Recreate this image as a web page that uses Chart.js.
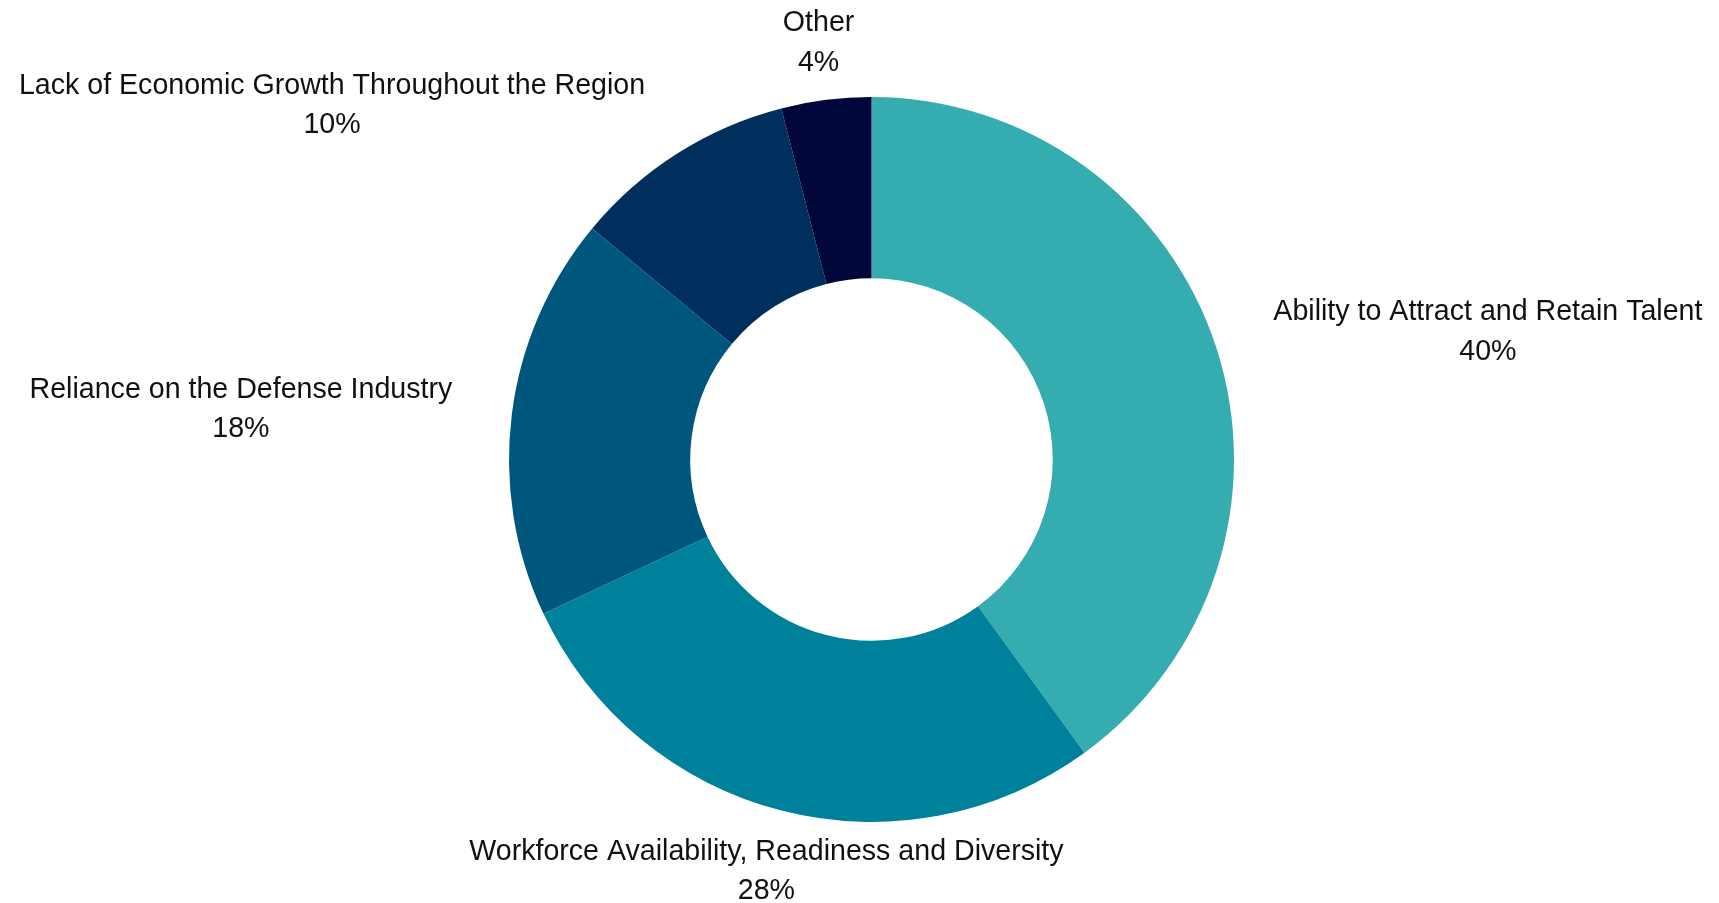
<!DOCTYPE html>
<html>
<head>
<meta charset="utf-8">
<title>Regional challenges</title>
<script src="https://cdn.jsdelivr.net/npm/chart.js@4.4.1/dist/chart.umd.min.js"></script>
<style>
  html, body { margin: 0; padding: 0; background: #ffffff; }
  #wrap { width: 1719px; height: 903px; }
</style>
</head>
<body>
<div id="wrap"><canvas id="chart-donut" width="1719" height="903"></canvas></div>
<script>
// Dados do gráfico
const categories = [
  'Ability to Attract and Retain Talent',
  'Workforce Availability, Readiness and Diversity',
  'Reliance on the Defense Industry',
  'Lack of Economic Growth Throughout the Region',
  'Other'
];
const shares = [40, 28, 18, 10, 4];
const sliceColors = ['#34acb0', '#00819b', '#00577d', '#002f5e', '#01073a'];

// Rótulos externos: nome na primeira linha, percentual na segunda
const outsideLabels = {
  id: 'outsideLabels',
  afterDatasetsDraw(chart) {
    const ctx = chart.ctx;
    const meta = chart.getDatasetMeta(0);
    const gap = 60;
    const lineGap = 39.5;

    ctx.save();
    ctx.font = '28.6px "Liberation Sans", Arial, sans-serif';
    ctx.fillStyle = '#111111';
    ctx.textAlign = 'center';
    ctx.textBaseline = 'middle';

    meta.data.forEach((arc, i) => {
      const mid = (arc.startAngle + arc.endAngle) / 2;
      const ux = Math.cos(mid);
      const uy = Math.sin(mid);
      const r = arc.outerRadius + gap;
      let px = arc.x + r * ux;
      const py = arc.y + r * uy + 3;

      const lines = [categories[i], shares[i] + '%'];
      const w = Math.max(...lines.map(t => ctx.measureText(t).width));
      // nas laterais o texto fica encostado no ponto, em cima/baixo fica centralizado
      if (Math.abs(ux) > 0.4) px += Math.sign(ux) * w / 2;

      ctx.fillText(lines[0], px, py - lineGap / 2);
      ctx.fillText(lines[1], px, py + lineGap / 2);
    });
    ctx.restore();
  }
};

new Chart(document.getElementById('chart-donut'), {
  type: 'doughnut',
  data: {
    labels: categories,
    datasets: [{
      data: shares,
      backgroundColor: sliceColors,
      borderWidth: 0
    }]
  },
  options: {
    responsive: false,
    animation: false,
    cutout: '50%',
    layout: {
      padding: { top: 97, bottom: 81, left: 509, right: 485 }
    },
    plugins: {
      legend: { display: false },
      tooltip: { enabled: false }
    }
  },
  plugins: [outsideLabels]
});
</script>
</body>
</html>
